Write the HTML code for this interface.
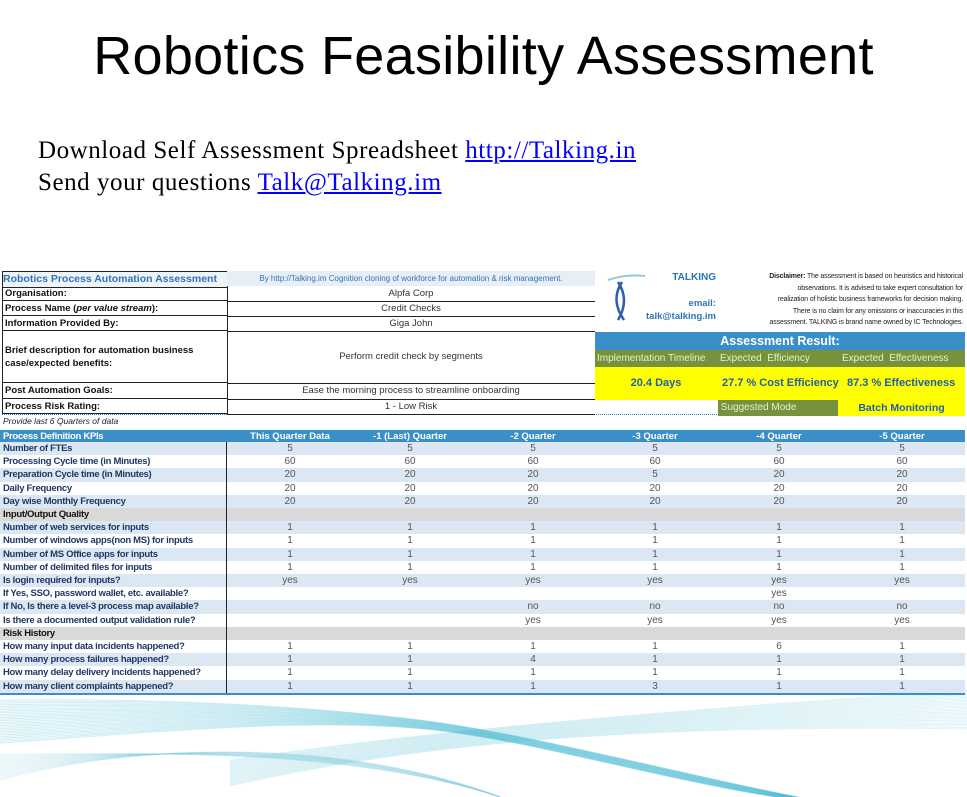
<!DOCTYPE html>
<html><head><meta charset="utf-8">
<style>
html,body{margin:0;width:967px;height:797px;overflow:hidden}
body{background:#fff;position:relative;font-family:"Liberation Sans",sans-serif}
.a{position:absolute;white-space:nowrap}
.lbl{font-size:9.5px;font-weight:bold;color:#1f3864;letter-spacing:-0.3px}
.val{font-size:10px;color:#555;text-align:center}
</style></head><body>
<svg class="a" style="left:0;top:680px" width="967" height="117" id="wave"></svg>

<div class="a" style="left:0;width:967px;top:25px;text-align:center;font-size:54px;letter-spacing:0.3px;color:#000">Robotics Feasibility Assessment</div>
<div class="a" style="left:38px;top:137px;font-family:'Liberation Serif',serif;font-size:25px;letter-spacing:0.55px">Download Self Assessment Spreadsheet <span style="color:#00f;text-decoration:underline">http://Talking.in</span></div>
<div class="a" style="left:38px;top:169px;font-family:'Liberation Serif',serif;font-size:25px;letter-spacing:0.55px">Send your questions <span style="color:#00f;text-decoration:underline">Talk@Talking.im</span></div>

<div class="a" style="left:2px;top:271px;width:224px;height:15px;border:1px solid #222;background:#eef3f8;font-size:10.5px;font-weight:bold;color:#2e75b6;line-height:15px">Robotics Process Automation Assessment</div>
<div class="a" style="left:227px;top:271px;width:368px;height:15px;background:#e8eef5;font-size:8px;color:#2e75b6;line-height:15px;text-align:center">By http://Talking.im Cognition cloning of workforce for automation &amp; risk management.</div>
<div class="a" style="left:3px;top:416px;font-size:8.5px;font-style:italic;color:#222">Provide last 6 Quarters of data</div>
<div class="a" style="left:2px;top:414px;width:963px;border-top:1px dotted #2e75b6"></div>

<svg class="a" style="left:600px;top:272px" width="50" height="55">
<path d="M8 8 Q25 2 45 4" stroke="#9cc" stroke-width="2" fill="none"/>
<path d="M18 10 Q30 28 18 48 M22 10 Q10 28 24 48" stroke="#2e5fa8" stroke-width="2.5" fill="none"/>
</svg>
<div class="a" style="left:650px;top:272px;width:66px;text-align:right;font-size:10px;font-weight:bold;color:#2e75b6">TALKING</div>
<div class="a" style="left:650px;top:298px;width:66px;text-align:right;font-size:9.5px;font-weight:bold;color:#2e75b6">email:</div>
<div class="a" style="left:640px;top:311px;width:76px;text-align:right;font-size:9.5px;font-weight:bold;color:#2e75b6">talk@talking.im</div>
<div class="a" style="left:720px;top:271px;width:243px;font-size:7px;letter-spacing:-0.15px;line-height:11.5px;text-align:right;color:#222"><b>Disclaimer:</b> The assessment is based on heuristics and historical<br>observations. It is advised to take expert consultation for<br>realization of holistic business frameworks for decision making.<br>There is no claim for any omissions or inaccuracies in this<br>assessment. TALKING is brand name owned by IC Technologies.</div>
<div class="a" style="left:595px;top:332px;width:370px;height:18px;background:#3a8fc8;color:#fff;font-weight:bold;font-size:12.5px;text-align:center;line-height:18px">Assessment Result:</div>
<div class="a" style="left:595px;top:350px;width:370px;height:17px;background:#76923c;color:#e8f0d0;font-size:10px;line-height:17px">
<span class="a" style="left:2px">Implementation Timeline</span><span class="a" style="left:125px">Expected&nbsp; Efficiency</span><span class="a" style="left:247px">Expected&nbsp; Effectiveness</span></div>
<div class="a" style="left:595px;top:367px;width:370px;height:33px;background:#ffff00;color:#1f5fa8;font-weight:bold;font-size:11px;line-height:33px">
<span class="a" style="left:0;width:122px;text-align:center">20.4 Days</span><span class="a" style="left:127px">27.7 % Cost Efficiency</span><span class="a" style="left:252px">87.3 % Effectiveness</span></div>
<div class="a" style="left:718px;top:400px;width:120px;height:16px;background:#76923c;color:#e8f0d0;font-size:10px;line-height:16px">&nbsp;Suggested Mode</div>
<div class="a" style="left:838px;top:400px;width:127px;height:16px;background:#ffff00;color:#1f5fa8;font-weight:bold;font-size:10.5px;line-height:16px;text-align:center">Batch Monitoring</div>

<script>
const topLabels=["Organisation:","Process Name (per value stream):","Information Provided By:","Brief description for automation business case/expected benefits:","Post Automation Goals:","Process Risk  Rating:"];
const topValues=["Alpfa Corp","Credit Checks","Giga John","Perform credit check by segments","Ease the morning process to streamline onboarding","1 - Low Risk"];
const topY=[287,301,316,331,383,399,414];
const headers=["Process Definition KPIs","This Quarter Data","-1 (Last) Quarter","-2 Quarter","-3 Quarter","-4 Quarter","-5 Quarter"];
const rowLabels=["Number of FTEs","Processing Cycle time (in Minutes)","Preparation Cycle time (in Minutes)","Daily Frequency","Day wise Monthly Frequency","Input/Output Quality","Number of web services for inputs","Number of windows apps(non MS) for inputs","Number of MS Office apps for inputs","Number of delimited files for inputs","Is login required for inputs?","If Yes, SSO, password wallet, etc. available?","If No, Is there a level-3 process map available?","Is there a documented output validation rule?","Risk History","How many input data incidents happened?","How many process failures happened?","How many delay delivery incidents happened?","How many client complaints happened?"];
const rowValues=[
["5","5","5","5","5","5"],["60","60","60","60","60","60"],["20","20","20","5","20","20"],["20","20","20","20","20","20"],["20","20","20","20","20","20"],
null,
["1","1","1","1","1","1"],["1","1","1","1","1","1"],["1","1","1","1","1","1"],["1","1","1","1","1","1"],
["yes","yes","yes","yes","yes","yes"],["","","","","yes",""],["","","no","no","no","no"],["","","yes","yes","yes","yes"],
null,
["1","1","1","1","6","1"],["1","1","4","1","1","1"],["1","1","1","1","1","1"],["1","1","1","3","1","1"]];
const colCenters=[290,410,533,655,779,902];
function mk(html,style,name,inter){const d=document.createElement('div');d.className='a';d.innerHTML=html;d.style.cssText=style;


document.body.appendChild(d);return d;}
topLabels.forEach((l,i)=>{const y=topY[i],h=topY[i+1]-y;
 mk(l.replace('per value stream','<i>per value stream</i>'),`left:2px;top:${y}px;width:222px;height:${h-1}px;border:1px solid #222;border-top:none;font-size:9.5px;font-weight:bold;color:#111;white-space:normal;display:flex;align-items:center;padding-left:2px;line-height:13px`,'top-label','false');
 mk(topValues[i],`left:227px;top:${y}px;width:368px;height:${h}px;border-bottom:1px solid #222;font-size:9.5px;color:#333;text-align:center;line-height:${h}px`,'top-value','false');
});
const y0=430,rh=13.2;
mk('',`left:0;top:${y0}px;width:965px;height:12px;background:#3a8fc8`,'kpi-header-bar','false');
headers.forEach((h,i)=>{
 if(i==0) mk(h,`left:3px;top:${y0}px;font-size:9.5px;font-weight:bold;color:#fff;line-height:13px;letter-spacing:-0.3px`,'header-kpi','false');
 else mk(h,`left:${colCenters[i-1]-60}px;width:120px;text-align:center;top:${y0}px;font-size:9.5px;font-weight:bold;color:#fff;line-height:13px`,'header-quarter','false');
});
rowLabels.forEach((l,r)=>{const y=y0+12+r*rh;const vals=rowValues[r];
 const bg=vals===null?'#d9d9d9':(r%2==0?'#dbe8f3':'#fff');
 mk('',`left:0;top:${y}px;width:965px;height:${rh}px;background:${bg}`,'row-background','false');
 mk(l,`left:3px;top:${y}px;line-height:${rh}px;${vals===null?'color:#111;':''}`,'row-label','false').classList.add('lbl');
 if(vals) vals.forEach((v,c)=>{const e=mk(v,`left:${colCenters[c]-40}px;width:80px;top:${y}px;line-height:${rh}px`,'cell-value','false');e.classList.add('val');});
});
mk('',`left:226px;top:${y0+12}px;width:1px;height:${19*rh}px;background:#222`,'column-divider','false');
mk('',`left:0;top:${y0+12+19*rh}px;width:965px;height:2px;background:#3a8fc8`,'table-bottom-border','false');
const w=document.getElementById('wave');let s='';
for(let k=0;k<28;k++){const o=k*1.6;
 s+=`<path d="M0 ${20+o} C150 ${18+o*0.8} 300 ${25+o*0.3} 420 ${40+o*0.2} S700 ${100+o*0.3} 840 ${125}" stroke="#2fb0cc" stroke-opacity="0.22" fill="none"/>`;
 s+=`<path d="M230 ${80+o*0.6} C400 ${55+o*0.3} 600 ${35+o*0.2} 967 ${10+o*0.9}" stroke="#5cc2da" stroke-opacity="0.18" fill="none"/>`;
 s+=`<path d="M0 ${100-o*0.6} C150 ${60+o*0.3} 350 ${60+o*0.2} 500 ${117}" stroke="#8ad3e4" stroke-opacity="0.15" fill="none"/>`;}
w.innerHTML=s;
</script>
</body></html>
